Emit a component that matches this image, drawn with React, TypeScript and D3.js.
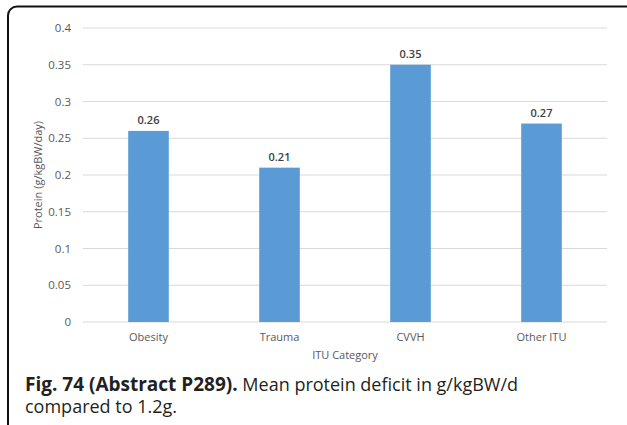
import * as d3 from "d3"

const categories = ["Obesity", "Trauma", "CVVH", "Other ITU"]
const values = [0.26, 0.21, 0.35, 0.27]
const yTicks = [0, 0.05, 0.1, 0.15, 0.2, 0.25, 0.3, 0.35, 0.4]

const W = 627
const H = 425
const font = "'Open Sans', 'Noto Sans', sans-serif"
const grey = "#595959"

export default function App() {
  const plot = {left: 83, right: 607, top: 28, bottom: 322}

  const x = d3
    .scaleBand<string>()
    .domain(categories)
    .range([plot.left, plot.right])
    .paddingInner(0.69)
    .paddingOuter(0.345)
  const y = d3.scaleLinear().domain([0, 0.4]).range([plot.bottom, plot.top])
  const fmt = (v: number) => d3.format("")(+v.toFixed(2))

  return (
    <div style={{position: "fixed", left: 0, top: 0}}>
      <svg width={W} height={H} style={{display: "block", background: "#fff"}}>
        {/* frame */}
        <rect x={8} y={6.5} width={628} height={428} rx={9} fill="none" stroke="#111" strokeWidth={2} />

        {/* gridlines + y ticks */}
        {yTicks.map((t) => (
          <g key={t}>
            <line x1={plot.left} x2={plot.right} y1={y(t)} y2={y(t)} stroke="#d9d9d9" strokeWidth={1} />
            <text x={71} y={y(t)} dy="0.35em" textAnchor="end" fontFamily={font} fontSize={11.5} fill={grey}>
              {fmt(t)}
            </text>
          </g>
        ))}

        {/* bars */}
        {categories.map((c, i) => (
          <g key={c}>
            <rect
              x={x(c)}
              y={y(values[i])}
              width={x.bandwidth()}
              height={y(0) - y(values[i])}
              fill="#5b9bd5"
            />
            <text
              x={x(c)! + x.bandwidth() / 2}
              y={y(values[i]) - 7}
              textAnchor="middle"
              fontFamily={font}
              fontSize={11}
              fontWeight={600}
              fill="#404040"
            >
              {values[i]}
            </text>
            <text
              x={x(c)! + x.bandwidth() / 2}
              y={341}
              textAnchor="middle"
              fontFamily={font}
              fontSize={11}
              fill={grey}
            >
              {c}
            </text>
          </g>
        ))}

        {/* axis titles */}
        <text x={(plot.left + plot.right) / 2} y={359} textAnchor="middle" fontFamily={font} fontSize={11} fill={grey}>
          ITU Category
        </text>
        <text
          transform={`translate(42, ${(plot.top + plot.bottom) / 2}) rotate(-90)`}
          textAnchor="middle"
          fontFamily={font}
          fontSize={11}
          fill={grey}
        >
          Protein (g/kgBW/day)
        </text>

        {/* caption */}
        <text x={25} y={391} fontFamily={font} fontSize={18} fill="#231f20">
          <tspan fontWeight={700} fontSize={19}>Fig. 74 (Abstract P289).</tspan>
          <tspan> Mean protein deficit in g/kgBW/d</tspan>
          <tspan x={25} y={413}>compared to 1.2g.</tspan>
        </text>
      </svg>
    </div>
  )
}
